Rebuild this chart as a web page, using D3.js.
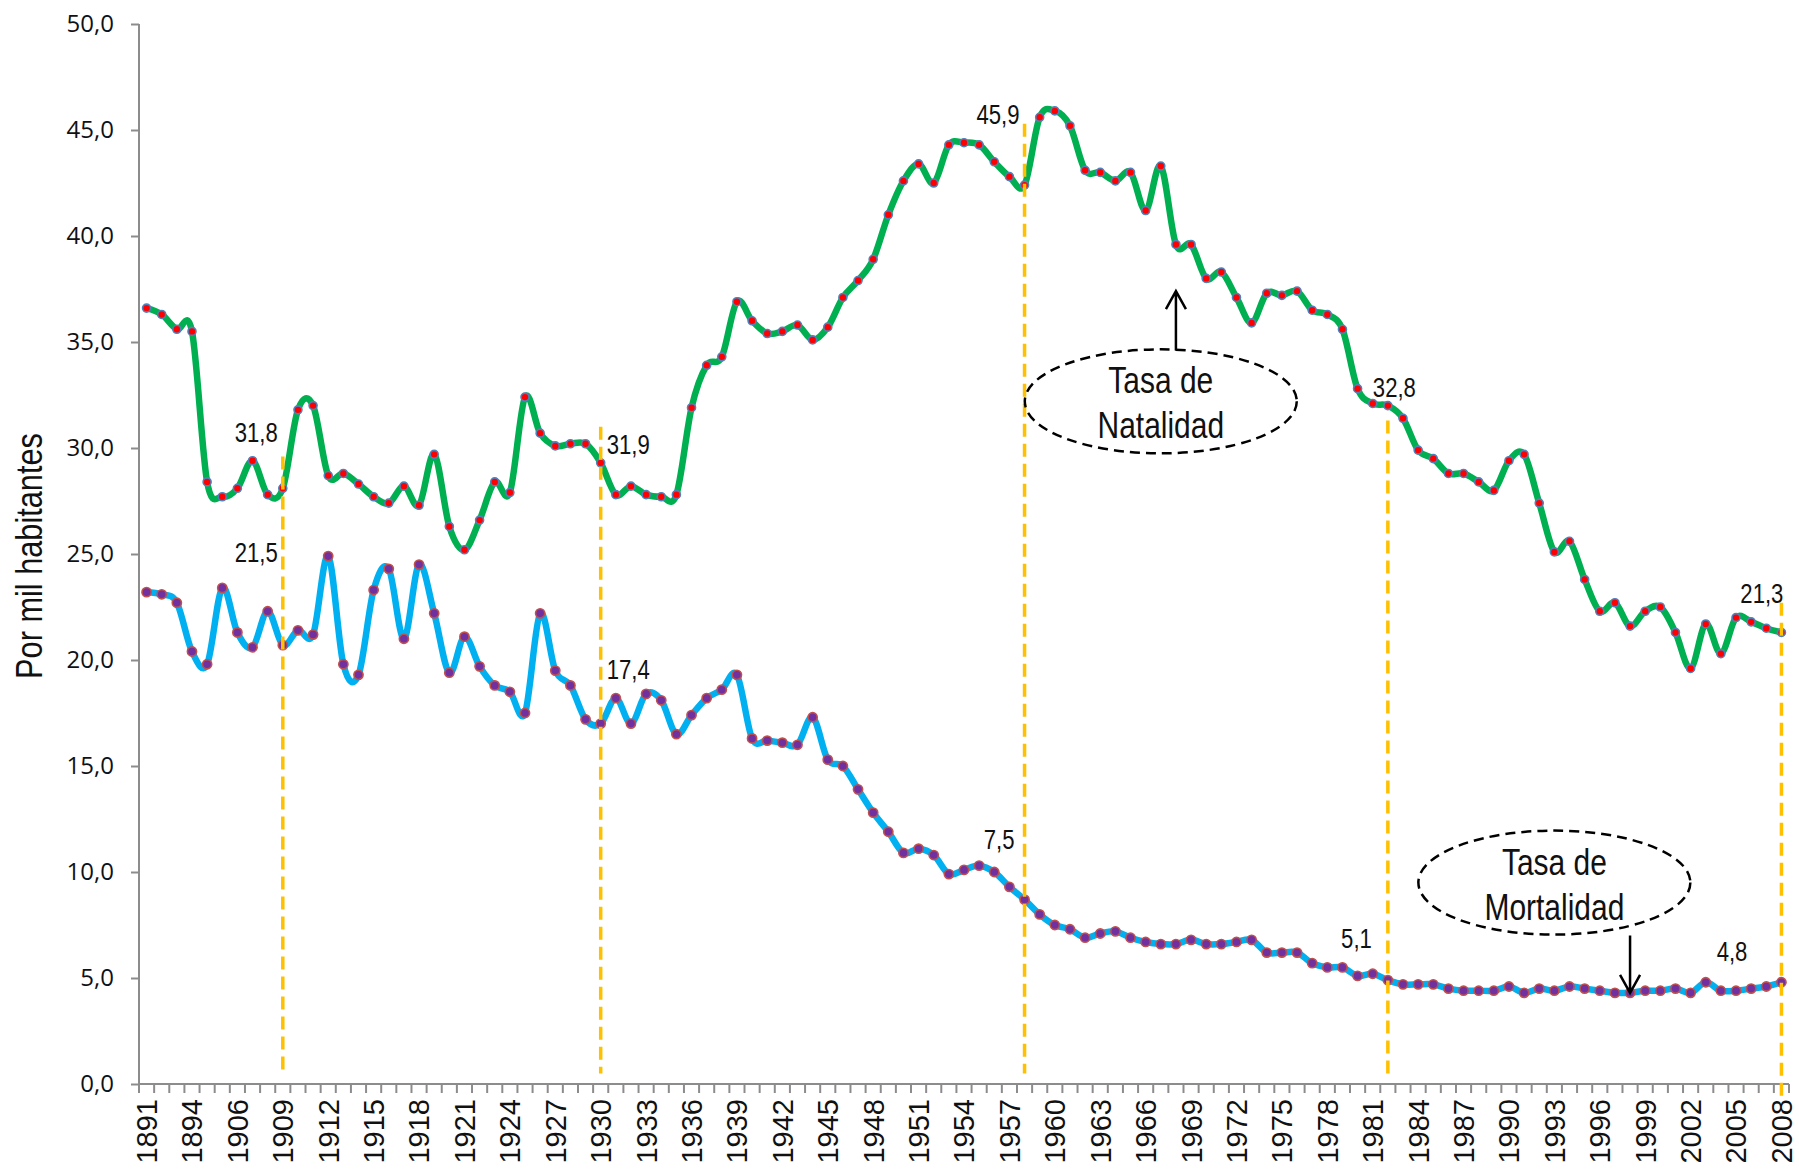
<!DOCTYPE html>
<meta charset="utf-8">
<title>Tasas de natalidad y mortalidad</title>
<style>

body {
  margin: 0;
  background: #fff;
}

.axis path, .axis line {
  stroke: #8c8c8c;
  stroke-width: 2px;
}

.ylab text {
  font-family: "Open Sans", "Noto Sans", sans-serif;
  font-size: 24px;
  fill: #111;
}

.xlab text {
  font-family: "Liberation Sans", Arial, sans-serif;
  font-size: 29px;
  fill: #111;
}

.narrow {
  font-family: "Liberation Sans", Arial, sans-serif;
  fill: #111;
}

</style>
<body>
  <script src="https://d3js.org/d3.v7.min.js"></script>
  <script>

  const width = 1799;
  const height = 1172;

  // categories (the chart skips 1895-1903)
  const years = [1891, 1892, 1893, 1894,
    1904, 1905, 1906, 1907, 1908, 1909, 1910, 1911, 1912, 1913, 1914, 1915, 1916, 1917, 1918, 1919,
    1920, 1921, 1922, 1923, 1924, 1925, 1926, 1927, 1928, 1929, 1930, 1931, 1932, 1933, 1934, 1935,
    1936, 1937, 1938, 1939, 1940, 1941, 1942, 1943, 1944, 1945, 1946, 1947, 1948, 1949, 1950, 1951,
    1952, 1953, 1954, 1955, 1956, 1957, 1958, 1959, 1960, 1961, 1962, 1963, 1964, 1965, 1966, 1967,
    1968, 1969, 1970, 1971, 1972, 1973, 1974, 1975, 1976, 1977, 1978, 1979, 1980, 1981, 1982, 1983,
    1984, 1985, 1986, 1987, 1988, 1989, 1990, 1991, 1992, 1993, 1994, 1995, 1996, 1997, 1998, 1999,
    2000, 2001, 2002, 2003, 2004, 2005, 2006, 2007, 2008];

  const natalidad = [36.6, 36.3, 35.6, 35.5,
    28.4, 27.7, 28.1, 29.4, 27.8, 28.1, 31.8, 32.0,
    28.7, 28.8, 28.3, 27.7, 27.4, 28.2, 27.3, 29.7,
    26.3, 25.2, 26.6, 28.4, 27.9, 32.4, 30.7, 30.1,
    30.2, 30.2, 29.3, 27.8, 28.2, 27.8, 27.7, 27.8,
    31.9, 33.9, 34.3, 36.9, 36.0, 35.4, 35.5, 35.8,
    35.1, 35.7, 37.1, 37.9, 38.9, 41.0, 42.6, 43.4,
    42.5, 44.3, 44.4, 44.3, 43.5, 42.8, 42.4, 45.6,
    45.9, 45.2, 43.1, 43.0, 42.6, 43.0, 41.2, 43.3,
    39.6, 39.6, 38.0, 38.3, 37.1, 35.9, 37.3, 37.2,
    37.4, 36.5, 36.3, 35.6, 32.8, 32.1, 32.0, 31.4,
    29.9, 29.5, 28.8, 28.8, 28.4, 28.0, 29.4, 29.7,
    27.4, 25.1, 25.6, 23.8, 22.3, 22.7, 21.6, 22.3,
    22.5, 21.3, 19.6, 21.7, 20.3, 22.0, 21.8, 21.5, 21.3];

  const mortalidad = [23.2, 23.1, 22.7, 20.4,
    19.8, 23.4, 21.3, 20.6, 22.3, 20.7, 21.4, 21.2,
    24.9, 19.8, 19.3, 23.3, 24.3, 21.0, 24.5, 22.2,
    19.4, 21.1, 19.7, 18.8, 18.5, 17.5, 22.2, 19.5,
    18.8, 17.2, 17.0, 18.2, 17.0, 18.4, 18.1, 16.5,
    17.4, 18.2, 18.6, 19.3, 16.3, 16.2, 16.1, 16.0,
    17.3, 15.3, 15.0, 13.9, 12.8, 11.9, 10.9, 11.1,
    10.8, 9.9, 10.1, 10.3, 10.0, 9.3, 8.7, 8.0,
    7.5, 7.3, 6.9, 7.1, 7.2, 6.9, 6.7, 6.6,
    6.6, 6.8, 6.6, 6.6, 6.7, 6.8, 6.2, 6.2,
    6.2, 5.7, 5.5, 5.5, 5.1, 5.2, 4.9, 4.7,
    4.7, 4.7, 4.5, 4.4, 4.4, 4.4, 4.6, 4.3,
    4.5, 4.4, 4.6, 4.5, 4.4, 4.3, 4.3, 4.4,
    4.4, 4.5, 4.3, 4.8, 4.4, 4.4, 4.5, 4.6, 4.8];

  const yTicks = [0, 5, 10, 15, 20, 25, 30, 35, 40, 45, 50];

  // marked years and the values written next to them
  const markYears = [1909, 1930, 1958, 1982, 2008];
  const markNat = ["31,8", "31,9", "45,9", "32,8", "21,3"];
  const markMort = ["21,5", "17,4", "7,5", "5,1", "4,8"];

  const svg = d3.select("body").append("svg")
      .attr("width", width)
      .attr("height", height);

  const x = d3.scaleBand().domain(years).range([139, 1789]);
  const cx = d => x(d) + x.bandwidth() / 2;
  const y = d3.scaleLinear().domain([0, 50]).range([1084, 24]);

  // condensed text: regular font squeezed horizontally
  const narrowText = (px, py, t, size, sx, anchor) =>
    svg.append("text")
        .attr("class", "narrow")
        .attr("transform", "translate(" + px + "," + py + ")scale(" + sx + ",1)")
        .attr("text-anchor", anchor)
        .style("font-size", size + "px")
        .text(t);

  /* y axis */
  const yAxis = svg.append("g")
      .attr("class", "axis ylab")
      .attr("transform", "translate(139,0)")
      .call(d3.axisLeft(y).tickValues(yTicks).tickSize(8).tickPadding(17)
        .tickFormat(d => d.toFixed(1).replace(".", ",")));
  yAxis.select(".domain").attr("d", "M0," + y(50) + "V" + y(0));

  /* x axis: labels every third category, ticks between categories */
  const xAxis = svg.append("g")
      .attr("class", "axis xlab")
      .attr("transform", "translate(0," + y(0) + ")")
      .call(d3.axisBottom(x).tickValues(years.filter((d, i) => i % 3 === 0)).tickSize(0));
  xAxis.select(".domain").remove();
  xAxis.selectAll("text")
      .attr("transform", "rotate(-90)")
      .attr("text-anchor", "end")
      .attr("x", -15)
      .attr("y", 0)
      .attr("dy", "0.36em");

  svg.append("line")
      .attr("x1", x.range()[0]).attr("x2", x.range()[1])
      .attr("y1", y(0)).attr("y2", y(0))
      .style("stroke", "#8c8c8c").style("stroke-width", 2);

  svg.append("g").selectAll("line")
      .data(years.map(d => x(d)).concat([x.range()[1]]))
    .enter().append("line")
      .attr("x1", d => d).attr("x2", d => d)
      .attr("y1", y(0)).attr("y2", y(0) + 9)
      .style("stroke", "#8c8c8c").style("stroke-width", 2);

  /* y title */
  svg.append("text")
      .attr("class", "narrow")
      .attr("transform", "translate(29,556)rotate(-90)scale(0.83,1)")
      .attr("text-anchor", "middle")
      .attr("dy", "0.35em")
      .style("font-size", "37px")
      .text("Por mil habitantes");

  /* series */
  const line = d3.line()
      .x((d, i) => cx(years[i]))
      .y(d => y(d))
      .curve(d3.curveCardinal.tension(0));

  const series = [
    {values: natalidad, color: "#00b050", fill: "#ff0000", edge: "#4f81bd", r: 4},
    {values: mortalidad, color: "#00b0f0", fill: "#7030a0", edge: "#c0504d", r: 4.6}
  ];

  series.forEach(s => {
    svg.append("path")
        .datum(s.values)
        .attr("d", line)
        .style("fill", "none")
        .style("stroke", s.color)
        .style("stroke-width", 6.5)
        .style("stroke-linejoin", "round");
  });

  series.forEach(s => {
    svg.append("g").selectAll("circle")
        .data(s.values)
      .enter().append("circle")
        .attr("cx", (d, i) => cx(years[i]))
        .attr("cy", d => y(d))
        .attr("r", s.r)
        .style("fill", s.fill)
        .style("stroke", s.edge)
        .style("stroke-width", 1.6);
  });

  /* dashed markers with their labels */
  const markLayout = [
    {top: 29.6, bottom: 0.5, nat: [-5, 30.3, "end"], mort: [-5, 24.6, "end"]},
    {top: 31.0, bottom: 0.5, nat: [6, 29.7, "start"], mort: [6, 19.1, "start"]},
    {top: 45.3, bottom: 0.5, nat: [-5, 45.3, "end"], mort: [-10, 11.1, "end"]},
    {top: 31.3, bottom: 0.5, nat: [-15, 32.4, "start"], mort: [-16, 6.4, "end"]},
    {top: 22.7, bottom: -0.8, nat: [2, 22.7, "end"], mort: [-34, 5.8, "end"]}
  ];

  markYears.forEach((yr, i) => {
    const lx = cx(yr);
    const m = markLayout[i];
    svg.append("line")
        .attr("x1", lx).attr("x2", lx)
        .attr("y1", y(m.top)).attr("y2", y(m.bottom))
        .style("stroke", "#ffc000")
        .style("stroke-width", 3.5)
        .style("stroke-dasharray", "13,7");
    [[markNat[i], m.nat], [markMort[i], m.mort]].forEach(([t, p]) => {
      narrowText(lx + p[0], y(p[1]), t, 27, 0.82, p[2]);
    });
  });

  /* callouts */
  const callouts = [
    {year: 1967, level: 32.2, arrowYear: 1968, from: 34.6, to: 37.4, lines: ["Tasa de", "Natalidad"]},
    {year: 1993, level: 9.5, arrowYear: 1998, from: 7.0, to: 4.3, lines: ["Tasa de", "Mortalidad"]}
  ];

  callouts.forEach(c => {
    const ex = cx(c.year), ey = y(c.level);
    svg.append("ellipse")
        .attr("cx", ex).attr("cy", ey)
        .attr("rx", 136).attr("ry", 52)
        .style("fill", "none")
        .style("stroke", "#000")
        .style("stroke-width", 2.5)
        .style("stroke-dasharray", "10,6");
    c.lines.forEach((t, k) => {
      narrowText(ex, ey - 8 + k * 45, t, 37, 0.81, "middle");
    });
    const ax = cx(c.arrowYear), y1 = y(c.from), y2 = y(c.to);
    const dir = y2 < y1 ? 1 : -1;
    svg.append("path")
        .attr("d", "M" + ax + "," + y1 + "V" + y2 +
          "M" + (ax - 10) + "," + (y2 + dir * 18) + "L" + ax + "," + y2 + "L" + (ax + 10) + "," + (y2 + dir * 18))
        .style("fill", "none")
        .style("stroke", "#000")
        .style("stroke-width", 2.5);
  });

  </script>
</body>
